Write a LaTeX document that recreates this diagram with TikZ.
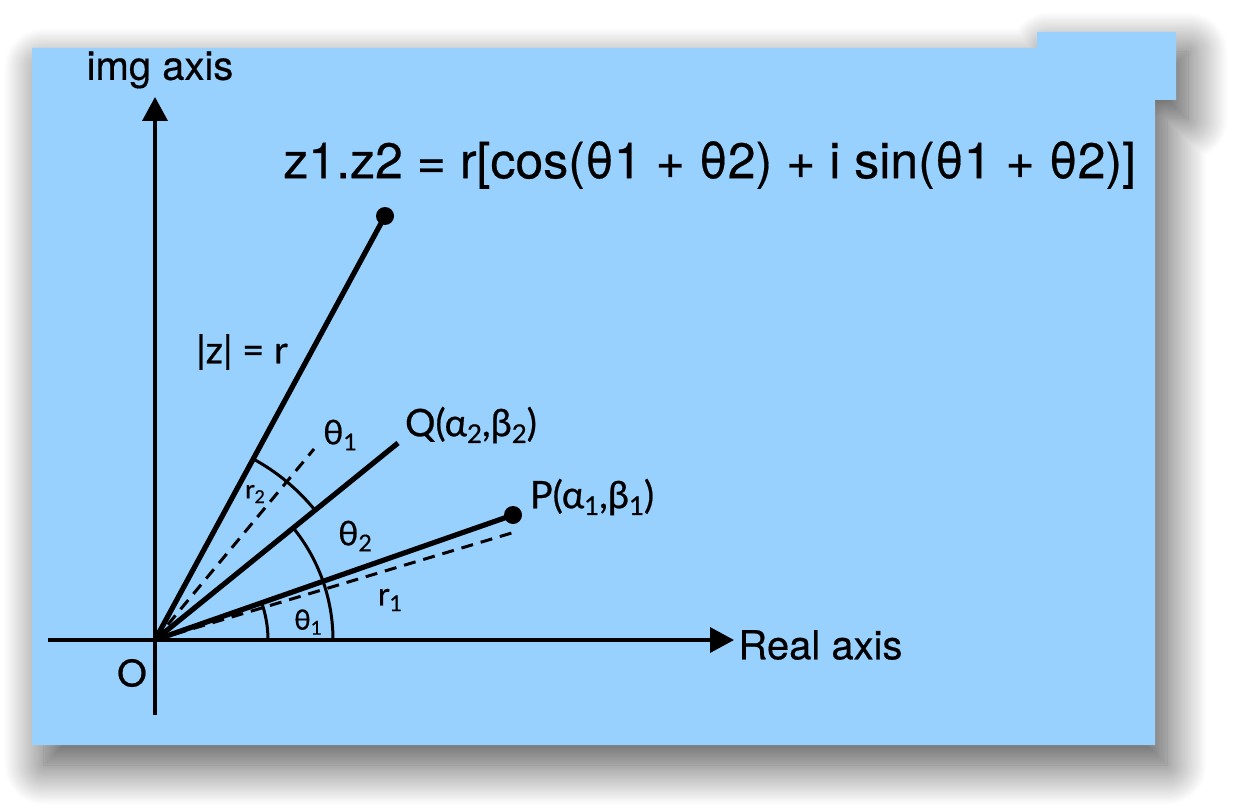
\documentclass[tikz,border=0pt]{standalone}
\usepackage{fontspec}
\usepackage{graphicx}
\setmainfont[FakeBold=0.4]{TeX Gyre Heros}
\newfontfamily\lblfont[FakeBold=0.6]{Lato}
\usepackage{tikz}
\usetikzlibrary{arrows.meta}
\usetikzlibrary{calc}
\usetikzlibrary{shadows.blur}

\definecolor{paper}{RGB}{152,208,254}
\newcommand{\lsub}[1]{\raisebox{-0.35ex}{\scalebox{0.68}{#1}}}

\begin{document}
\begin{tikzpicture}[
    x=0.5pt, y=0.5pt,
    axis/.style={line width=1.8pt, -{Triangle[length=12pt, width=12.5pt, fill=black]}},
    ray/.style={line width=2.6pt},
    guide/.style={line width=1.5pt, dash pattern=on 6pt off 4pt},
    sweep/.style={line width=1.5pt},
    dot/.style={circle, fill=black, inner sep=0pt, minimum size=9pt},
    lbl/.style={inner sep=0pt, font=\lblfont\fontsize{19}{19}\selectfont}
]
    \useasboundingbox (0,0) rectangle (1240,810);

    % Card with tab and shadow
    \path[fill=paper, blur shadow={shadow xshift=6pt, shadow yshift=-10pt,
        shadow blur radius=20pt, shadow blur steps=35, shadow opacity=70}]
        (32,65) -- (1155,65) -- (1155,710) -- (1176,710) -- (1176,778)
        -- (1037,778) -- (1037,762) -- (32,762) -- cycle;

    % Axes
    \coordinate (O) at (155,170);
    \coordinate (XL) at (48,170);
    \coordinate (XR) at (734,170);
    \coordinate (YB) at (155,95);
    \coordinate (YT) at (155,713);
    \draw[axis] (XL) -- (XR);
    \draw[axis] (YB) -- (YT);

    \node[inner sep=0pt, font=\fontsize{20}{20}\selectfont] (Yname) at (160,740) {img axis};
    \node[inner sep=0pt, anchor=west, font=\fontsize{20}{20}\selectfont] (Xname) at (738,165) {Real axis};
    \node[lbl] (Oname) at (132,137) {O};

    % Rays
    \node[dot] (Z) at (385,594) {};
    \node[dot] (P) at (513,295) {};
    \coordinate (Q) at (398,367);
    \coordinate (P1) at (515,278);
    \coordinate (R2) at (314,361);

    \draw[ray] (O) -- (Z.center);
    \draw[ray] (O) -- (Q);
    \draw[ray] (O) -- (P.center);
    \draw[guide] (O) -- (P1);
    \draw[guide] (O) -- (R2);

    % Angle arcs
    \draw[sweep] ($(O)+(113,0)$) arc[start angle=0, end angle=19.2, radius=113];
    \draw[sweep] ($(O)+(178,0)$) arc[start angle=0, end angle=39, radius=178];
    \draw[sweep] ($(O)+(39:206)$) arc[start angle=39, end angle=61.5, radius=206];

    % Labels
    \node[inner sep=0pt, anchor=west, font=\fontsize{25}{25}\selectfont] (F) at (283,645)
        {z1.z2 = r[cos(θ1 + θ2) + i sin(θ1 + θ2)]};
    \node[lbl] (Zname) at (242,458) {|z| = r};
    \node[lbl] (Qname) at (471,385) {Q(α\lsub{2},β\lsub{2})};
    \node[lbl] (Pname) at (592,313) {P(α\lsub{1},β\lsub{1})};
    \node[lbl, font=\lblfont\fontsize{17}{17}\selectfont] (T1a) at (340,375) {θ\lsub{1}};
    \node[lbl, font=\lblfont\fontsize{17}{17}\selectfont] (T2) at (355,274) {θ\lsub{2}};
    \node[lbl, font=\lblfont\fontsize{14}{14}\selectfont] (T1b) at (308,188) {θ\lsub{1}};
    \node[lbl, font=\lblfont\fontsize{16}{16}\selectfont] (R1name) at (390,210) {r\lsub{1}};
    \node[lbl, font=\lblfont\fontsize{13}{13}\selectfont] (R2name) at (255,316) {r\lsub{2}};
\end{tikzpicture}
\end{document}
